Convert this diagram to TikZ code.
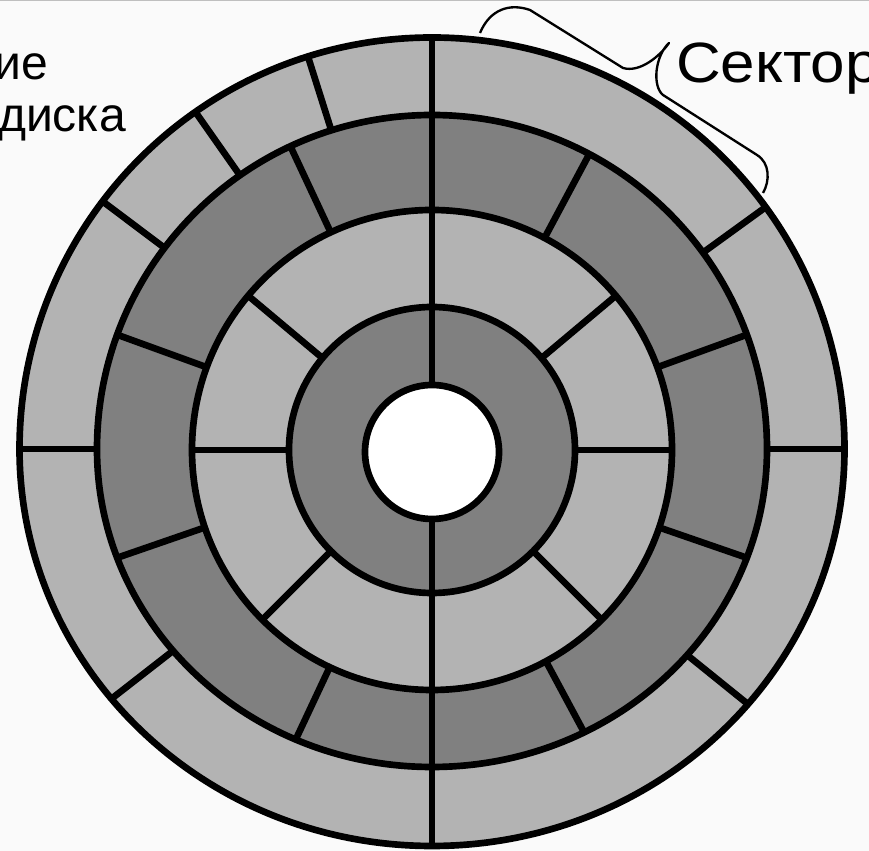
\documentclass[tikz,border=0pt]{standalone}
\usepackage{fontspec}
\setmainfont{Liberation Sans}
\definecolor{lightring}{HTML}{B3B3B3}
\definecolor{darkring}{HTML}{808080}
\definecolor{paper}{HTML}{FAFAFA}
\usetikzlibrary{calc}

\begin{document}
\begin{tikzpicture}[x=0.03cm, y=0.03cm,
    ringline/.style={line width=0.2cm},
    bracestroke/.style={line width=0.07cm, line join=round},
    caption/.style={inner sep=0pt, font=\fontsize{48.5}{58}\selectfont}]
    \useasboundingbox (0,0) rectangle (869,851);
    \fill[paper] (0,0) rectangle (869,851);
    \draw[black!25, line width=0.04cm] (0,850.4) -- (869,850.4);

    % ring centres
    \coordinate (c4) at (432,402);
    \coordinate (c3) at (432,402);
    \coordinate (c2) at (432,401);
    \coordinate (c1) at (432,401);
    \coordinate (c0) at (432,399);

    % outer track (upper half round, lower half flatter)
    \filldraw[fill=lightring, ringline] ($(c4)+(-412.5,0)$)
      arc [start angle=180, end angle=0, x radius=412.5, y radius=411.5]
      arc [start angle=0, end angle=-180, x radius=412.5, y radius=397] -- cycle;
    \foreach \a/\ry in {0/411.5, 36/411.5, 90/411.5, 107.5/411.5, 125/411.5,
                        143/411.5, 180/411.5, 219/397, 270/397, 320/397}
      \draw[ringline] (c4) -- ($(c4)+(\a:412.5 and \ry)$);

    % third track
    \filldraw[fill=darkring, ringline] ($(c3)+(-335,0)$)
      arc [start angle=180, end angle=0, x radius=335, y radius=334]
      arc [start angle=0, end angle=-180, x radius=335, y radius=318] -- cycle;
    \foreach \a/\ry in {20/334, 62/334, 90/334, 115/334, 160/334,
                        200/318, 246/318, 270/318, 297/318, 340/318}
      \draw[ringline] (c3) -- ($(c3)+(\a:335 and \ry)$);

    % second track
    \filldraw[fill=lightring, ringline] (c2) circle [radius=240];
    \foreach \a in {0,40,90,140,180,225,270,315}
      \draw[ringline] (c2) -- ($(c2)+(\a:240)$);

    % inner track
    \filldraw[fill=darkring, ringline] (c1) circle [radius=143];
    \foreach \a in {90,270}
      \draw[ringline] (c1) -- ($(c1)+(\a:143)$);

    % hole
    \filldraw[fill=white, ringline] (c0) circle [radius=67];

    % brace over one sector
    \coordinate (brA) at (480,818);
    \coordinate (brTip) at (669,808);
    \coordinate (brB) at (763,658);
    \draw[bracestroke] (brA) .. controls (490,842) and (510,848) .. (530,841)
      -- (623,783) .. controls (640,778) and (660,795) .. (brTip)
      .. controls (655,795) and (652,765) .. (663,756)
      -- (757,696) .. controls (770,688) and (770,670) .. (brB);

    % labels
    \node[caption, anchor=base west, xscale=1.09] (sector) at (676,768) {Сектор};
    \node[inner sep=0pt, anchor=base east, font=\fontsize{41}{50}\selectfont] (lineA) at (48,771) {ие};
    \node[inner sep=0pt, anchor=base east, font=\fontsize{41}{50}\selectfont] (lineB) at (126,719) {диска};
\end{tikzpicture}
\end{document}
